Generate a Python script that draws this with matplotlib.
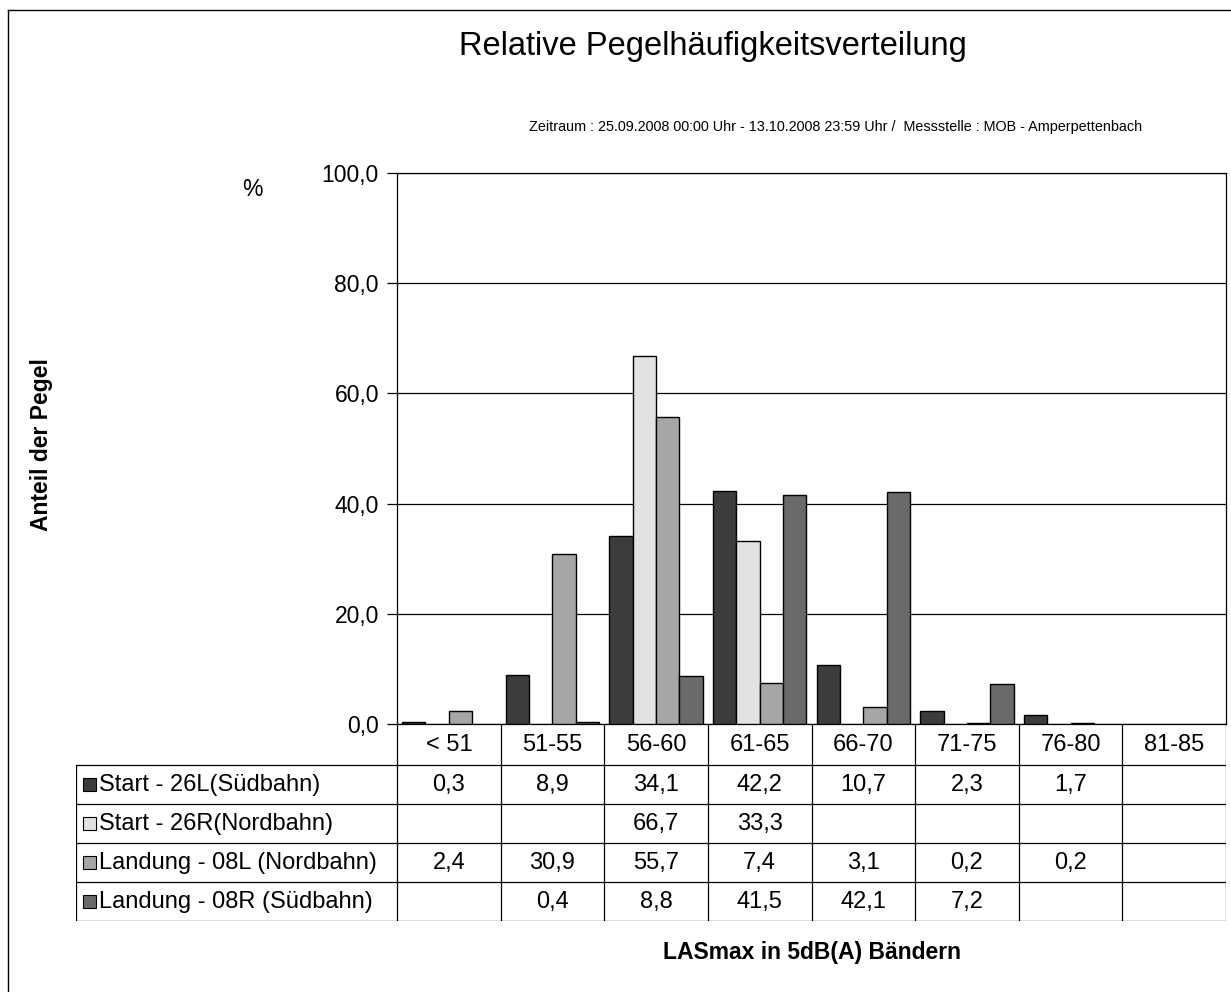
import numpy as np
import matplotlib
matplotlib.use('Agg')
import matplotlib.pyplot as plt
from matplotlib.patches import Rectangle

plt.rcParams['font.family'] = ['Liberation Sans', 'DejaVu Sans']

# level bands (LASmax, 5 dB(A) steps)
bands = ['< 51', '51-55', '56-60', '61-65', '66-70', '71-75', '76-80', '81-85']

series_names = ['Start - 26L(Südbahn)', 'Start - 26R(Nordbahn)',
                'Landung - 08L (Nordbahn)', 'Landung - 08R (Südbahn)']

nan = np.nan
start_26l = [0.3, 8.9, 34.1, 42.2, 10.7, 2.3, 1.7, nan]
start_26r = [nan, nan, 66.7, 33.3, nan, nan, nan, nan]
landung_08l = [2.4, 30.9, 55.7, 7.4, 3.1, 0.2, 0.2, nan]
landung_08r = [nan, 0.4, 8.8, 41.5, 42.1, 7.2, nan, nan]
series = [start_26l, start_26r, landung_08l, landung_08r]

colors = ['#3c3c3c', '#e2e2e2', '#a6a6a6', '#6a6a6a']

W, H = 1231, 992
fig = plt.figure(figsize=(W / 100, H / 100), dpi=100)

# pixel layout helpers
px_left, px_right = 397, 1226
px_top, px_zero = 173, 724
tab_left = 76
row_edges = [724, 765, 804, 843, 882, 921]


def fig_rect(x0, y0, x1, y1):
    return [x0 / W, 1 - y1 / H, (x1 - x0) / W, (y1 - y0) / H]


ax = fig.add_axes(fig_rect(px_left, px_top, px_right, px_zero))
n = len(bands)
x = np.arange(n)
bw = 0.225
for j, (vals, c) in enumerate(zip(series, colors)):
    ax.bar(x + (j - 1.5) * bw, np.array(vals, dtype=float), width=bw,
           color=c, edgecolor='black', linewidth=1.0, zorder=3)

ax.set_xlim(-0.5, n - 0.5)
ax.set_ylim(0, 100)
ax.set_yticks(np.arange(0, 101, 20))
ax.set_yticklabels([f'{v:.1f}'.replace('.', ',') for v in np.arange(0, 101, 20)],
                   fontsize=16.5)
ax.tick_params(axis='y', length=7, width=0.9, pad=6, color='black')
ax.set_xticks([])
ax.grid(axis='y', color='black', linewidth=0.9, zorder=0)
for s in ax.spines.values():
    s.set_linewidth(0.9)

# data table under the bars
tab = fig.add_axes(fig_rect(tab_left, row_edges[0], px_right, row_edges[-1]))
cat_px = (px_right - px_left) / n
x_min = -0.5 - (px_left - tab_left) / cat_px
tab.set_xlim(x_min, n - 0.5)
tab.set_ylim(row_edges[-1], row_edges[0])
tab.axis('off')

lw = 0.9
# horizontal rules
for yy in row_edges[1:]:
    tab.plot([x_min, n - 0.5], [yy, yy], color='black', lw=lw)
# vertical rules
tab.plot([x_min, x_min], [row_edges[1], row_edges[-1]], color='black', lw=lw)
for k in range(n + 1):
    tab.plot([k - 0.5, k - 0.5], [row_edges[0], row_edges[-1]], color='black', lw=lw)

for i, b in enumerate(bands):
    tab.text(i, (row_edges[0] + row_edges[1]) / 2 + 1, b, ha='center', va='center',
             fontsize=17)

sq = 13
for r, (name, vals, c) in enumerate(zip(series_names, series, colors)):
    yc = (row_edges[r + 1] + row_edges[r + 2]) / 2
    tab.add_patch(Rectangle((x_min + 7 / cat_px, yc - sq / 2), sq / cat_px, sq,
                            facecolor=c, edgecolor='black', lw=0.8))
    tab.text(x_min + 23 / cat_px, yc + 1, name, ha='left', va='center', fontsize=17)
    for i, v in enumerate(vals):
        if not np.isnan(v):
            tab.text(i, yc + 1, f'{v:.1f}'.replace('.', ','), ha='center',
                     va='center', fontsize=17)

# titles and axis captions
fig.text(713 / W, 1 - 47 / H, 'Relative Pegelhäufigkeitsverteilung',
         ha='center', va='center', fontsize=23.5)
fig.text(836 / W, 1 - 127 / H,
         'Zeitraum : 25.09.2008 00:00 Uhr - 13.10.2008 23:59 Uhr /  Messstelle : MOB - Amperpettenbach',
         ha='center', va='center', fontsize=10.4)
fig.text(252 / W, 1 - 190 / H, '%', ha='center', va='center', fontsize=16.5)
fig.text(42 / W, 1 - 445 / H, 'Anteil der Pegel', ha='center', va='center',
         rotation=90, fontsize=16.5, fontweight='bold')
fig.text(812 / W, 1 - 953 / H, 'LASmax in 5dB(A) Bändern', ha='center',
         va='center', fontsize=16.5, fontweight='bold')

# outer frame of the chart sheet
fig.add_artist(plt.Line2D([8 / W, 8 / W], [0, 1 - 10 / H], color='black', lw=1.0))
fig.add_artist(plt.Line2D([8 / W, 1], [1 - 10 / H, 1 - 10 / H], color='black', lw=1.0))

fig.savefig('out.png', dpi=100)
